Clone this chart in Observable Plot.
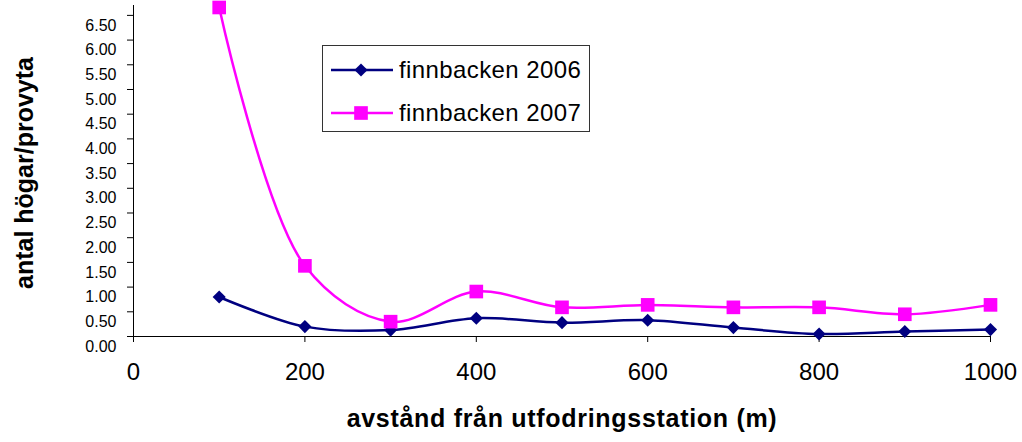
<!DOCTYPE html>
<html><head><meta charset="utf-8">
<script src="https://cdn.jsdelivr.net/npm/d3@7"></script>
<script src="https://cdn.jsdelivr.net/npm/@observablehq/plot@0.6"></script>
<style>
body{margin:0;background:#fff;font-family:"Liberation Sans",Arial,sans-serif;}
#wrap{position:relative;width:1022px;height:442px;}
#legend{position:absolute;left:322px;top:45px;width:268px;height:87px;border:1px solid #333;background:#fff;box-sizing:border-box;}
#legend .row{position:absolute;left:0;height:30px;}
#legend .lab{position:absolute;left:76px;font-size:24px;line-height:30px;letter-spacing:0.4px;color:#000;white-space:nowrap;}
</style></head><body><div id="wrap"></div>
<script>
const distances = [100, 200, 300, 400, 500, 600, 700, 800, 900, 1000];
const finnbacken2006 = [0.80, 0.20, 0.13, 0.37, 0.28, 0.33, 0.18, 0.05, 0.10, 0.14];
const finnbacken2007 = [6.66, 1.43, 0.30, 0.91, 0.59, 0.64, 0.59, 0.59, 0.45, 0.64];
const seriesNames = ["finnbacken 2006", "finnbacken 2007"];
const seriesColors = ["#000080", "#FF00FF"];
const seriesSymbols = ["diamond2", "square"];
const xTicks = [0, 200, 400, 600, 800, 1000];
const yTicks = [0, 0.5, 1, 1.5, 2, 2.5, 3, 3.5, 4, 4.5, 5, 5.5, 6, 6.5];
const xTitle = "avstånd från utfodringsstation (m)";
const yTitle = "antal högar/provyta";

const rows06 = distances.map((d, i) => ({x: d, y: finnbacken2006[i], s: seriesNames[0]}));
const rows07 = distances.map((d, i) => ({x: d, y: finnbacken2007[i], s: seriesNames[1]}));

const chart = Plot.plot({
  width: 1022, height: 442,
  marginLeft: 133, marginRight: 32, marginTop: 5, marginBottom: 106,
  style: {fontFamily: "'Liberation Sans', Arial, sans-serif", background: "white", overflow: "visible", color: "#000"},
  x: {domain: [0, 1000]},
  y: {domain: [0, 6.7]},
  color: {domain: seriesNames, range: seriesColors},
  marks: [
    Plot.ruleX([0], {y1: 0, y2: 6.7, stroke: "#000", strokeWidth: 1}),
    Plot.ruleY([0], {x1: 0, x2: 1000, stroke: "#000", strokeWidth: 1}),
    Plot.axisY(yTicks, {tickSize: 6, tickFormat: () => "", label: null}),
    Plot.axisY(yTicks, {tickSize: 0, tickPadding: 17, dy: 10, tickFormat: d => d.toFixed(2), fontSize: 16, label: null}),
    Plot.axisX(xTicks, {tickSize: 6, tickPadding: 20, fontSize: 24, tickFormat: d => String(d), label: null}),
    Plot.line(rows06, {x: "x", y: "y", stroke: "s", strokeWidth: 2.5, curve: "catmull-rom"}),
    Plot.line(rows07, {x: "x", y: "y", stroke: "s", strokeWidth: 2.5, curve: "catmull-rom"}),
    Plot.dot(rows06, {x: "x", y: "y", fill: "s", symbol: () => seriesSymbols[0], r: 5.9}),
    Plot.dot(rows07, {x: "x", y: "y", fill: "s", symbol: () => seriesSymbols[1], r: 7.7}),
    Plot.text([xTitle], {frameAnchor: "bottom", dy: 90, fontSize: 25, fontWeight: "bold", text: d => d}),
    Plot.text([yTitle], {frameAnchor: "left", textAnchor: "middle", lineAnchor: "middle", dx: -109, dy: 2, rotate: -90, fontSize: 25, fontWeight: "bold", text: d => d})
  ]
});
d3.select(chart).selectAll("text").filter(function(){ return this.textContent === xTitle; }).style("letter-spacing", "0.7px");
const wrap = document.getElementById("wrap");
wrap.appendChild(chart);

// legend
const leg = document.createElement("div");
leg.id = "legend";
const rowsY = [9, 52];
seriesNames.forEach((name, i) => {
  const row = document.createElement("div");
  row.className = "row";
  row.style.top = rowsY[i] + "px";
  row.style.width = "266px";
  const svg = d3.create("svg").attr("width", 76).attr("height", 30).style("position", "absolute").style("left", "0px").style("top", "0px");
  svg.append("line").attr("x1", 8).attr("x2", 70).attr("y1", 15).attr("y2", 15).attr("stroke", seriesColors[i]).attr("stroke-width", 2.5);
  const sym = i === 0 ? d3.symbolDiamond2 : d3.symbolSquare;
  const size = Math.PI * (i === 0 ? 5.9 : 7.7) ** 2;
  svg.append("path").attr("d", d3.symbol(sym, size)()).attr("transform", "translate(38,15)").attr("fill", seriesColors[i]);
  row.appendChild(svg.node());
  const lab = document.createElement("div");
  lab.className = "lab";
  lab.textContent = name;
  row.appendChild(lab);
  leg.appendChild(row);
});
wrap.appendChild(leg);
</script>
</body></html>
